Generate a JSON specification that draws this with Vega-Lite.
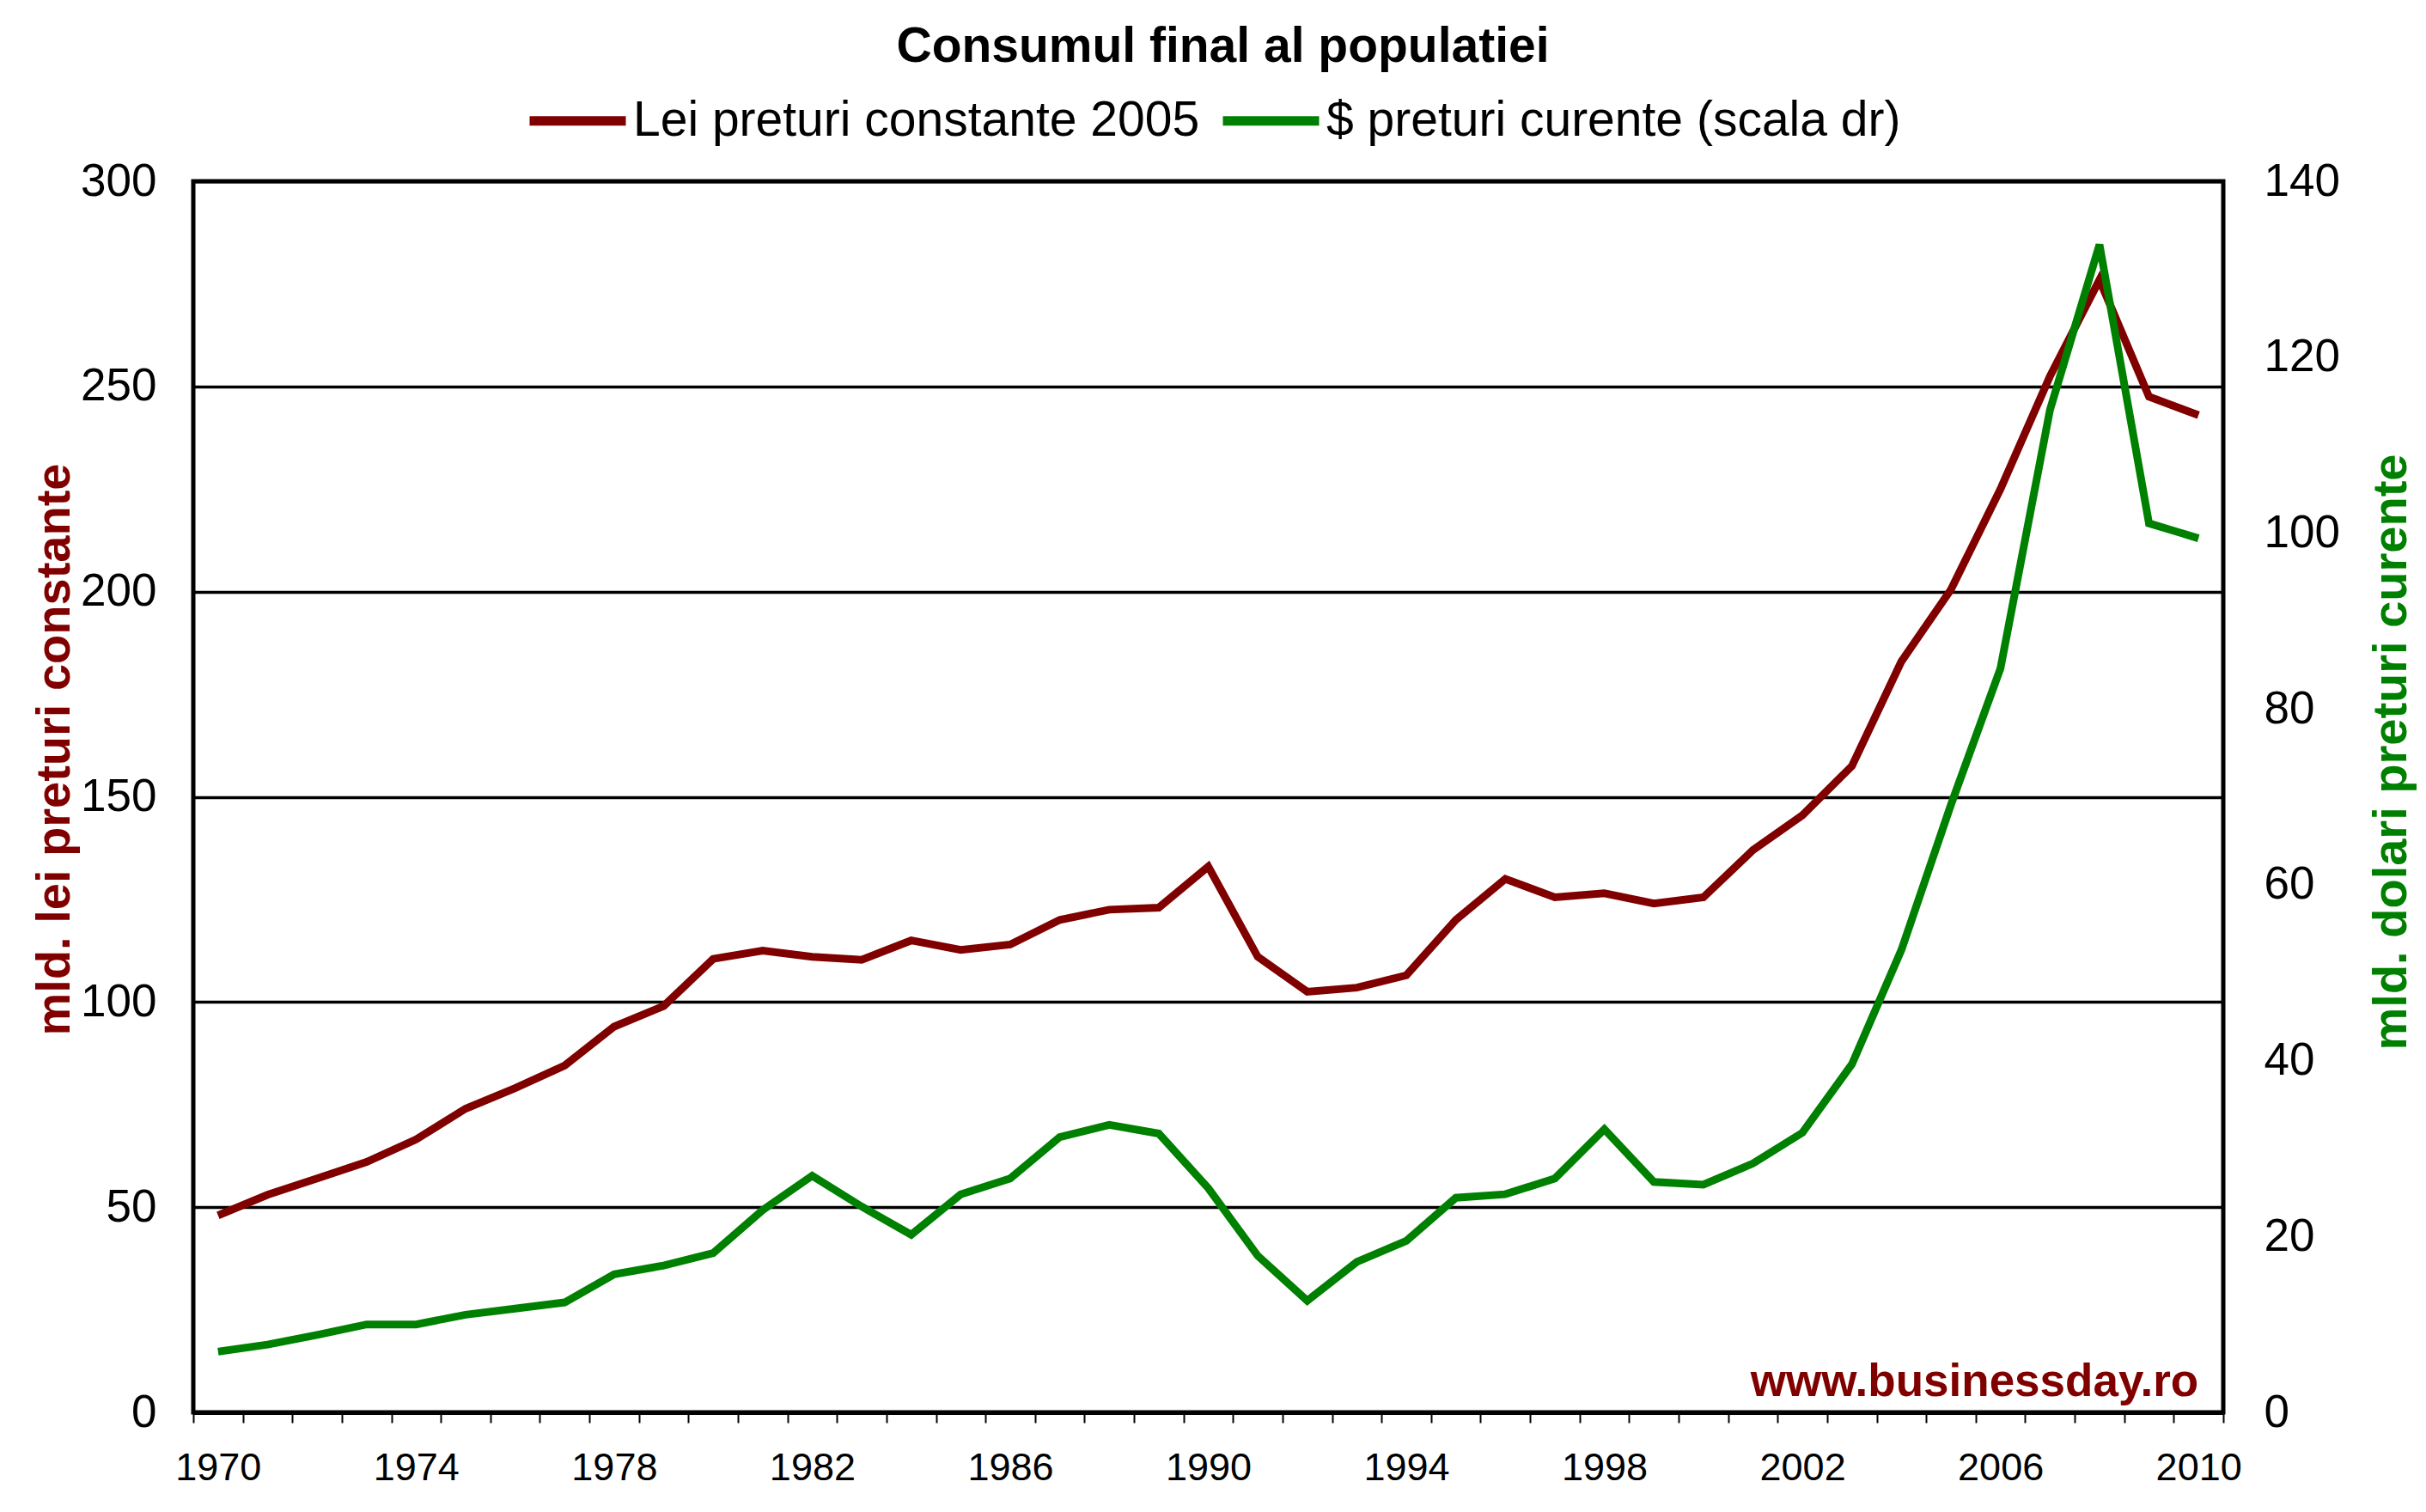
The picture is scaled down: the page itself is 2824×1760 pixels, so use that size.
{
  "$schema": "https://vega.github.io/schema/vega-lite/v6.json",
  "width": 2363,
  "height": 1433,
  "autosize": {"type": "none"},
  "padding": {"left": 225, "top": 211, "right": 236, "bottom": 116},
  "background": "white",
  "title": {
    "text": "Consumul final al populatiei",
    "font": "Liberation Sans",
    "fontSize": 57,
    "fontWeight": "bold",
    "color": "black",
    "anchor": "middle",
    "dx": 17,
    "offset": -5
  },
  "data": {
    "values": [
      {"year": 1970, "lei": 48, "usd": 6.9},
      {"year": 1971, "lei": 53, "usd": 7.7},
      {"year": 1972, "lei": 57, "usd": 8.8},
      {"year": 1973, "lei": 61, "usd": 10.0},
      {"year": 1974, "lei": 66.5, "usd": 10.0},
      {"year": 1975, "lei": 74, "usd": 11.1},
      {"year": 1976, "lei": 79, "usd": 11.8},
      {"year": 1977, "lei": 84.5, "usd": 12.5},
      {"year": 1978, "lei": 94, "usd": 15.7},
      {"year": 1979, "lei": 99, "usd": 16.7},
      {"year": 1980, "lei": 110.5, "usd": 18.1},
      {"year": 1981, "lei": 112.5, "usd": 23.0},
      {"year": 1982, "lei": 111, "usd": 26.9},
      {"year": 1983, "lei": 110.3, "usd": 23.4},
      {"year": 1984, "lei": 115, "usd": 20.2},
      {"year": 1985, "lei": 112.7, "usd": 24.8},
      {"year": 1986, "lei": 114, "usd": 26.6},
      {"year": 1987, "lei": 120, "usd": 31.3},
      {"year": 1988, "lei": 122.5, "usd": 32.7},
      {"year": 1989, "lei": 123, "usd": 31.7},
      {"year": 1990, "lei": 133, "usd": 25.5},
      {"year": 1991, "lei": 111, "usd": 17.8},
      {"year": 1992, "lei": 102.5, "usd": 12.7},
      {"year": 1993, "lei": 103.5, "usd": 17.1},
      {"year": 1994, "lei": 106.5, "usd": 19.5},
      {"year": 1995, "lei": 120, "usd": 24.4},
      {"year": 1996, "lei": 130, "usd": 24.8},
      {"year": 1997, "lei": 125.5, "usd": 26.6},
      {"year": 1998, "lei": 126.5, "usd": 32.2},
      {"year": 1999, "lei": 124, "usd": 26.2},
      {"year": 2000, "lei": 125.5, "usd": 25.9},
      {"year": 2001, "lei": 137, "usd": 28.3},
      {"year": 2002, "lei": 145.5, "usd": 31.8},
      {"year": 2003, "lei": 157.5, "usd": 39.6},
      {"year": 2004, "lei": 183, "usd": 52.6},
      {"year": 2005, "lei": 200.5, "usd": 69.1},
      {"year": 2006, "lei": 225, "usd": 84.6},
      {"year": 2007, "lei": 252.5, "usd": 114},
      {"year": 2008, "lei": 276, "usd": 132.8},
      {"year": 2009, "lei": 247.5, "usd": 101.1},
      {"year": 2010, "lei": 243, "usd": 99.4}
    ]
  },
  "layer": [
    {
      "layer": [
        {
          "mark": {"type": "line", "strokeWidth": 9, "clip": true},
          "encoding": {
            "x": {
              "field": "year",
              "type": "quantitative",
              "scale": {"domain": [1969.5, 2010.5], "nice": false, "zero": false},
              "axis": {
                "title": null,
                "values": [1969.5, 1970.5, 1971.5, 1972.5, 1973.5, 1974.5, 1975.5, 1976.5, 1977.5, 1978.5, 1979.5, 1980.5, 1981.5, 1982.5, 1983.5, 1984.5, 1985.5, 1986.5, 1987.5, 1988.5, 1989.5, 1990.5, 1991.5, 1992.5, 1993.5, 1994.5, 1995.5, 1996.5, 1997.5, 1998.5, 1999.5, 2000.5, 2001.5, 2002.5, 2003.5, 2004.5, 2005.5, 2006.5, 2007.5, 2008.5, 2009.5, 2010.5],
                "labelExpr": "(datum.value + 0.5 - 1970) % 4 == 0 ? format(datum.value + 0.5, 'd') : ''",
                "labelOffset": 28.8,
                "labelOverlap": false,
                "labelFlush": false,
                "labelBound": false,
                "labelFont": "Liberation Sans",
                "labelFontSize": 45,
                "labelColor": "black",
                "labelPadding": 30,
                "grid": false,
                "ticks": true,
                "tickSize": 12,
                "tickWidth": 2,
                "tickColor": "black",
                "domain": true,
                "domainColor": "black",
                "domainWidth": 5
              }
            },
            "y": {
              "field": "lei",
              "type": "quantitative",
              "scale": {"domain": [0, 300], "nice": false},
              "axis": {
                "title": "mld. lei preturi constante",
                "titleFont": "Liberation Sans",
                "titleFontSize": 56,
                "titleFontWeight": "bold",
                "titleColor": "#800000",
                "titleX": -162,
                "titleY": 661,
                "titleAngle": 270,
                "titleAlign": "center",
                "titleBaseline": "middle",
                "values": [0, 50, 100, 150, 200, 250, 300],
                "labelFont": "Liberation Sans",
                "labelFontSize": 53,
                "labelColor": "black",
                "labelPadding": 43,
                "grid": true,
                "gridColor": "black",
                "gridWidth": 3.5,
                "gridOpacity": 1,
                "ticks": false,
                "domain": false
              }
            },
            "color": {
              "datum": "Lei preturi constante 2005",
              "type": "nominal",
              "scale": {
                "domain": ["Lei preturi constante 2005", "$ preturi curente (scala dr)"],
                "range": ["#800000", "#008000"]
              },
              "legend": {
                "title": null,
                "orient": "none",
                "legendX": 386,
                "legendY": -132,
                "direction": "horizontal",
                "labelFont": "Liberation Sans",
                "labelFontSize": 57,
                "labelColor": "black",
                "labelLimit": 0,
                "labelOffset": 3,
                "symbolType": "stroke",
                "symbolSize": 12544,
                "symbolStrokeWidth": 11,
                "columnPadding": 4
              }
            }
          }
        },
        {
          "data": {"values": [{"label": "www.businessday.ro"}]},
          "mark": {
            "type": "text",
            "font": "Liberation Sans",
            "fontSize": 53,
            "fontWeight": "bold",
            "color": "#800000",
            "align": "right",
            "baseline": "alphabetic"
          },
          "encoding": {
            "text": {"field": "label"},
            "x": {"datum": 2010},
            "y": {"datum": 4}
          }
        }
      ]
    },
    {
      "mark": {"type": "line", "strokeWidth": 9, "clip": true},
      "encoding": {
        "x": {"field": "year", "type": "quantitative"},
        "y": {
          "field": "usd",
          "type": "quantitative",
          "scale": {"domain": [0, 140], "nice": false},
          "axis": {
            "orient": "right",
            "title": "mld. dolari preturi curente",
            "titleFont": "Liberation Sans",
            "titleFontSize": 56,
            "titleFontWeight": "bold",
            "titleColor": "#008000",
            "titleX": 195,
            "titleY": 664,
            "titleAngle": 270,
            "titleAlign": "center",
            "titleBaseline": "middle",
            "values": [0, 20, 40, 60, 80, 100, 120, 140],
            "labelFont": "Liberation Sans",
            "labelFontSize": 53,
            "labelColor": "black",
            "labelPadding": 47,
            "grid": false,
            "ticks": false,
            "domain": false
          }
        },
        "color": {"datum": "$ preturi curente (scala dr)", "type": "nominal"}
      }
    }
  ],
  "resolve": {"scale": {"y": "independent"}},
  "config": {
    "view": {"stroke": "black", "strokeWidth": 5}
  }
}
